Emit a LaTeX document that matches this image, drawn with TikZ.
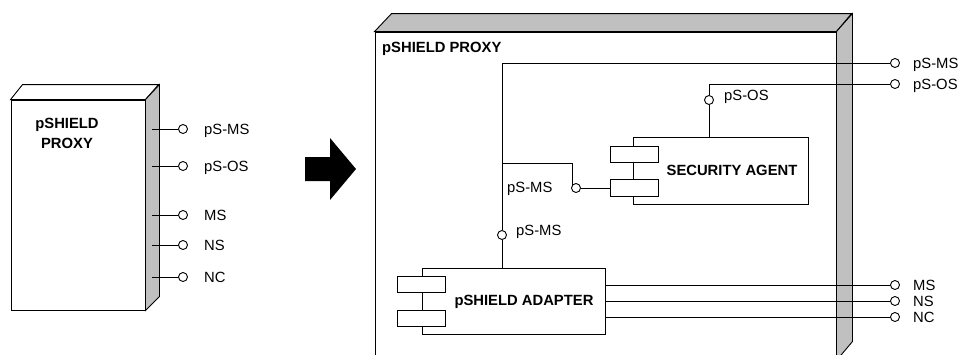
\documentclass[tikz,border=0pt]{standalone}
\usepackage{fontspec}
\setmainfont{Liberation Sans}
\usepackage{xcolor}
\definecolor{cLine}{HTML}{000000}
\definecolor{cSide}{HTML}{C0C0C0}
\usetikzlibrary{positioning,calc}
\tikzset{
  node-face/.style={draw=cLine,line width=0.9pt,fill=white,inner sep=0pt},
  node-plug/.style={draw=cLine,line width=0.9pt,fill=white,inner sep=0pt,
    minimum width=48,minimum height=16},
  node-port/.style={draw=cLine,line width=0.9pt,fill=white,circle,
    inner sep=0pt,minimum size=9},
  node-label/.style={inner sep=0pt,anchor=base west,
    font=\fontsize{14.8}{17}\selectfont},
  node-title/.style={inner sep=0pt,anchor=base,
    font=\fontsize{14.8}{17}\selectfont\bfseries},
  side-face/.style={draw=cLine,line width=0.9pt,fill=cSide},
  top-face/.style={draw=cLine,line width=0.9pt,fill=white},
  wire/.style={draw=cLine,line width=0.9pt},
}

\begin{document}
\begin{tikzpicture}[x=1pt,y=-1pt]
  \useasboundingbox (0,0) rectangle (959,354);

  % left: proxy as a black box
  \node[node-face,minimum width=134,minimum height=210] (proxyA) at (78,205) {};
  \draw[top-face] (proxyA.north west) -- ++(12,-15) -- ++(136,0)
    -- (proxyA.north east) -- cycle;
  \draw[side-face] (proxyA.north east) -- ++(14,-15) -- ++(0,212)
    -- (proxyA.south east) -- cycle;
  \node[node-title] (titleA1) at (67,128.3) {pSHIELD};
  \node[node-title] (titleA2) at (67,148.3) {PROXY};
  \foreach \lbl/\y [count=\i] in {pS-MS/129,pS-OS/166,MS/215,NS/245,NC/277}{
    \coordinate (a\i) at (152,\y);
    \node[node-port] (pa\i) at (183,\y) {};
    \node[node-label] (la\i) at (204,\y+5.3) {\lbl};
    \draw[wire] (a\i) -- (pa\i);
  }

  % arrow
  \fill[cLine] (305,157) -- (330,157) -- (330,138) -- (356,169)
    -- (330,200) -- (330,181) -- (305,181) -- cycle;

  % right: proxy with its parts
  \node[node-face,minimum width=461,minimum height=328] (proxyB) at (605.5,196) {};
  \draw[side-face] (proxyB.north west) -- ++(17,-18) -- ++(460,0)
    -- (proxyB.north east) -- cycle;
  \draw[side-face] (proxyB.north east) -- ++(16,-18) -- ++(0,328)
    -- (proxyB.south east) -- cycle;
  \node[node-title,anchor=base west] (titleB) at (382,52.3) {pSHIELD PROXY};

  \node[node-face,minimum width=175,minimum height=67] (sa) at (720.5,170.5) {};
  \node[node-plug] (saPlug1) at (634,154) {};
  \node[node-plug,minimum height=17] (saPlug2) at (634,188) {};
  \node[node-title] (saText) at (732,175.3) {SECURITY AGENT};

  \node[node-face,minimum width=183,minimum height=66] (ad) at (513.5,301) {};
  \node[node-plug] (adPlug1) at (421,284) {};
  \node[node-plug] (adPlug2) at (421,318) {};
  \node[node-title] (adText) at (524,305.3) {pSHIELD ADAPTER};

  \foreach \lbl/\y [count=\i] in {pS-MS/63,pS-OS/84,MS/285,NS/301,NC/317}{
    \node[node-port] (pb\i) at (895,\y) {};
    \node[node-label] (lb\i) at (913,\y+5.3) {\lbl};
  }
  \foreach \i in {3,4,5}
    \draw[wire] (pb\i -| ad.east) -- (pb\i);

  % pS-MS
  \coordinate (jTop) at (502,63);
  \coordinate (jMid) at (502,163);
  \node[node-port] (pAd) at (502,235) {};
  \node[node-port] (pSa) at (576,188) {};
  \draw[wire] (pAd.south) -- (pAd |- ad.north);
  \draw[wire] (pAd.north) -- (jTop) -- (pb1.west);
  \draw[wire] (jMid) -| (pSa.north west);
  \draw[wire] (pSa.east) -- (saPlug2.west);
  \node[node-label] (lAd) at (516,235.3) {pS-MS};
  \node[node-label] (lSa) at (507,192.3) {pS-MS};

  % pS-OS
  \node[node-port] (pOs) at (709,100) {};
  \draw[wire] (sa.north -| pOs) -- (pOs.south);
  \draw[wire] (pOs.north) |- (pb2.west);
  \node[node-label] (lOs) at (724,100.3) {pS-OS};
\end{tikzpicture}
\end{document}
